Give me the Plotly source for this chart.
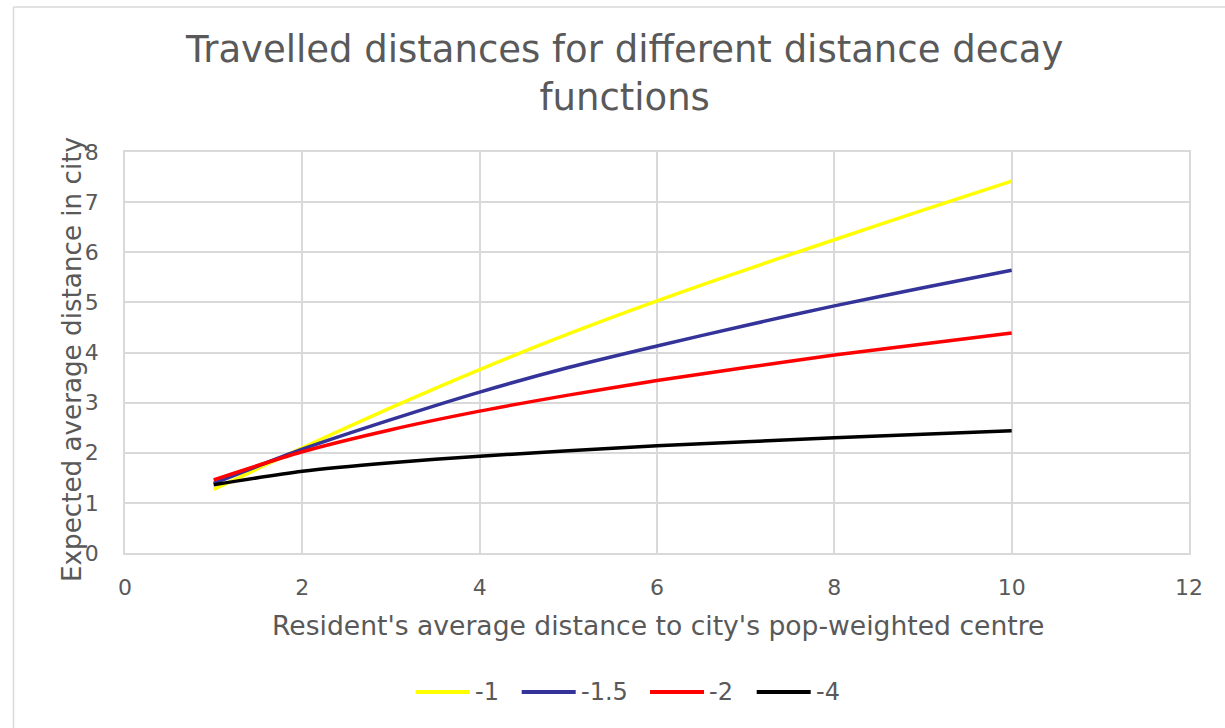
import plotly.graph_objects as go

# Resident's average distance to the city's pop-weighted centre
distance_to_centre = [1, 2, 3, 4, 5, 6, 7, 8, 9, 10]

# Expected average travelled distance for each distance-decay exponent
decay_exponents = ["-1", "-1.5", "-2", "-4"]
travel_decay_1 = [1.27, 2.10, 2.90, 3.66, 4.37, 5.03, 5.65, 6.25, 6.84, 7.42]
travel_decay_15 = [1.39, 2.07, 2.66, 3.21, 3.70, 4.13, 4.54, 4.93, 5.29, 5.64]
travel_decay_2 = [1.46, 2.02, 2.46, 2.83, 3.15, 3.44, 3.70, 3.95, 4.17, 4.39]
travel_decay_4 = [1.36, 1.63, 1.80, 1.93, 2.04, 2.14, 2.22, 2.30, 2.37, 2.44]

series_values = [travel_decay_1, travel_decay_15, travel_decay_2, travel_decay_4]
series_colors = ["#FFFF00", "#333399", "#FF0000", "#000000"]

x_ticks = [0, 2, 4, 6, 8, 10, 12]
y_ticks = [0, 1, 2, 3, 4, 5, 6, 7, 8]

W, H = 1225, 728
ML, MR, MT, MB = 125, 36, 152, 175
PW, PH = W - ML - MR, H - MT - MB
FONT = "Verdana, DejaVu Sans, sans-serif"
TXT = "#595959"
GRID = "#d9d9d9"


def px_x(x):
    return (x - ML) / PW


def px_y(y):
    return (H - MB - y) / PH


fig = go.Figure()
for name, vals, col in zip(decay_exponents, series_values, series_colors):
    fig.add_trace(go.Scatter(
        x=distance_to_centre, y=vals, name=name, mode="lines",
        line=dict(color=col, width=3.5, shape="spline", smoothing=0.8),
        showlegend=False,
    ))

shapes = [
    # outer chart-area frame (top and left edges)
    dict(type="line", xref="paper", yref="paper", x0=px_x(13.5), x1=px_x(W + 20),
         y0=px_y(7), y1=px_y(7), line=dict(color=GRID, width=1.5)),
    dict(type="line", xref="paper", yref="paper", x0=px_x(13.5), x1=px_x(13.5),
         y0=px_y(7), y1=px_y(H + 20), line=dict(color=GRID, width=1.5)),
]
annotations = [
    dict(text="Travelled distances for different distance decay<br>functions",
         xref="paper", yref="paper", x=px_x(624), y=px_y(73.5),
         xanchor="center", yanchor="middle", showarrow=False,
         font=dict(family=FONT, size=37, color=TXT)),
    dict(text="Resident's average distance to city's pop-weighted centre",
         xref="paper", yref="paper", x=px_x(658), y=px_y(625),
         xanchor="center", yanchor="middle", showarrow=False,
         font=dict(family=FONT, size=26.6, color=TXT)),
    dict(text="Expected average distance in city", textangle=-90,
         xref="paper", yref="paper", x=px_x(72), y=px_y(360),
         xanchor="center", yanchor="middle", showarrow=False,
         font=dict(family=FONT, size=26.2, color=TXT)),
]

# legend drawn below the plot: line sample followed by the series name
legend_line_starts = [415.7, 521.7, 650, 756.7]
for name, col, x0 in zip(decay_exponents, series_colors, legend_line_starts):
    shapes.append(dict(type="line", xref="paper", yref="paper",
                       x0=px_x(x0), x1=px_x(x0 + 54), y0=px_y(692), y1=px_y(692),
                       line=dict(color=col, width=4)))
    annotations.append(dict(text=name, xref="paper", yref="paper",
                            x=px_x(x0 + 57), y=px_y(692), xanchor="left", yanchor="middle",
                            showarrow=False, font=dict(family=FONT, size=24, color=TXT)))

fig.update_layout(
    width=W, height=H,
    margin=dict(l=ML, r=MR, t=MT, b=MB),
    paper_bgcolor="white", plot_bgcolor="white",
    font=dict(family=FONT, color=TXT),
    shapes=shapes, annotations=annotations,
    showlegend=False,
)
fig.update_xaxes(
    range=[0, 12], tickvals=x_ticks, ticktext=[str(v) for v in x_ticks],
    showgrid=True, gridcolor=GRID, gridwidth=1.5,
    showline=True, linecolor=GRID, linewidth=1.5, mirror=True,
    zeroline=False, ticks="", ticklabelstandoff=14,
    tickfont=dict(family=FONT, size=22, color=TXT),
)
fig.update_yaxes(
    range=[0, 8], tickvals=y_ticks, ticktext=[str(v) for v in y_ticks],
    showgrid=True, gridcolor=GRID, gridwidth=1.5,
    showline=True, linecolor=GRID, linewidth=1.5, mirror=True,
    zeroline=False, ticks="", ticklabelstandoff=20,
    tickfont=dict(family=FONT, size=22, color=TXT),
)

fig.write_html("out.html")
